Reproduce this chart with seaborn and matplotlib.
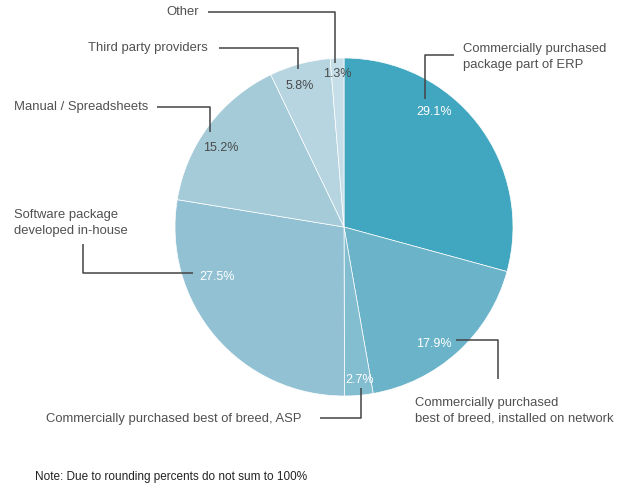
import matplotlib
matplotlib.use("Agg")
import matplotlib.pyplot as plt
import seaborn as sns

# Share of respondents by type of solution used
categories = [
    "Commercially purchased\npackage part of ERP",
    "Commercially purchased\nbest of breed, installed on network",
    "Commercially purchased best of breed, ASP",
    "Software package\ndeveloped in-house",
    "Manual / Spreadsheets",
    "Third party providers",
    "Other",
]
shares = [29.1, 17.9, 2.7, 27.5, 15.2, 5.8, 1.3]
note = "Note: Due to rounding percents do not sum to 100%"

colors = ["#41a6bf", "#6bb3c9", "#82bdd0", "#92c1d3", "#a5cbd8", "#b7d5e0", "#c6dee7"]
pct_colors = ["white", "white", "white", "white", "#4a4a4a", "#4a4a4a", "#4a4a4a"]

sns.set_theme(style="white")
plt.rcParams["font.family"] = ["Liberation Sans", "DejaVu Sans"]

W, H = 628, 485
fig = plt.figure(figsize=(W / 100, H / 100), dpi=100)
ax = fig.add_axes([0, 0, 1, 1])

# pixel-like coordinates, y grows downward
ax.pie(shares, colors=colors, center=(344, 228), radius=169,
       startangle=-90, counterclock=True,
       wedgeprops=dict(edgecolor="white", linewidth=0.5))
ax.set_xlim(0, W)
ax.set_ylim(H, 0)
ax.set_aspect("equal")
ax.axis("off")

# percentage label positions inside the pie
pct_pos = [(434, 112), (434, 344), (360, 380), (217, 277), (221, 148), (300, 86), (337, 74)]
for v, (x, y), c in zip(shares, pct_pos, pct_colors):
    ax.text(x, y, f"{v:.1f}%", ha="center", va="center", fontsize=9, color=c)

# leader lines
line_kw = dict(color="#444444", lw=1.1, solid_capstyle="butt")
leaders = [
    [(454, 56), (425, 56), (425, 100)],
    [(456, 341), (498, 341), (498, 380)],
    [(361, 389), (361, 419), (320, 419)],
    [(193, 274), (83, 274), (83, 245)],
    [(210, 133), (210, 108), (157, 108)],
    [(298, 70), (298, 49), (219, 49)],
    [(335, 64), (335, 13), (208, 13)],
]
for pts in leaders:
    xs, ys = zip(*pts)
    ax.plot(xs, ys, **line_kw)

# category labels
lab_pos = [
    (463, 57, "left"),
    (415, 411, "left"),
    (301, 419, "right"),
    (14, 223, "left"),
    (148, 107, "right"),
    (208, 48, "right"),
    (199, 12, "right"),
]
for name, (x, y, ha) in zip(categories, lab_pos):
    ax.text(x, y, name, ha=ha, va="center", fontsize=9.35, color="#505050",
            linespacing=1.35)

ax.text(35, 477, note, ha="left", va="center", fontsize=8.5, color="#222222",
        family=["Liberation Sans Narrow", "Liberation Sans", "DejaVu Sans"])

fig.savefig("out.png", dpi=100)
